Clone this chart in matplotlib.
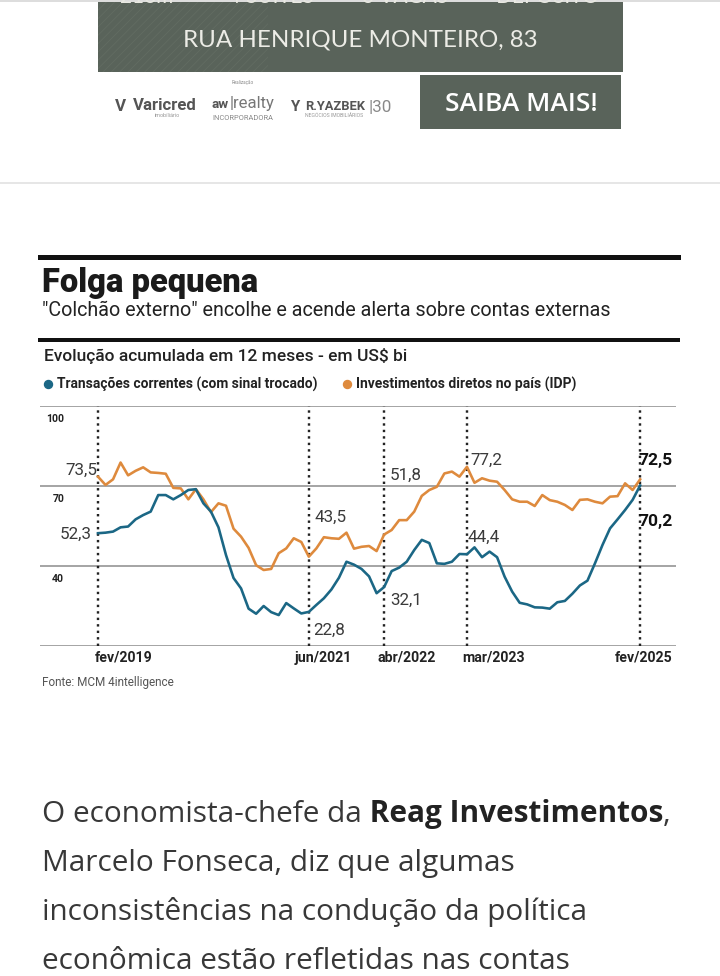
import numpy as np
import matplotlib
matplotlib.use('Agg')
import matplotlib.pyplot as plt
from matplotlib.patches import Rectangle
from matplotlib.lines import Line2D

W, H = 720, 976
PT = 0.72  # px -> pt at dpi 100

# ---- data (US$ bi, acumulado em 12 meses, fev/2019 .. fev/2025) ----
meses = np.arange(73)
transacoes = [52.3, 52.5, 52.9, 54.5, 54.8, 57.5, 59.1, 60.4, 66.6, 66.6,
              65.0, 66.6, 68.5, 68.8, 63.5, 60.4, 54.5, 44.1, 35.5, 31.6,
              24.0, 22.1, 25.0, 22.7, 21.6, 26.1, 24.1, 22.2, 22.8, 25.4,
              27.9, 31.2, 35.6, 41.6, 40.5, 38.9, 36.1, 29.8, 32.1, 38.1,
              39.4, 41.6, 46.0, 49.8, 48.6, 41.0, 40.8, 41.6, 44.5, 44.4,
              47.0, 43.3, 45.4, 43.3, 36.0, 30.4, 26.2, 25.6, 24.5, 24.4,
              24.0, 26.4, 26.9, 29.6, 32.7, 34.5, 41.0, 47.9, 54.1, 57.5,
              61.0, 64.8, 70.2]
idp = [73.5, 70.4, 72.5, 78.8, 74.0, 75.7, 77.0, 75.1, 74.9, 74.6,
       69.3, 69.1, 65.0, 68.8, 65.0, 60.2, 63.5, 62.6, 54.0, 51.0,
       46.8, 40.3, 38.5, 38.9, 44.8, 46.6, 50.4, 49.0, 43.5, 46.6,
       50.8, 50.4, 50.2, 52.5, 46.5, 47.2, 47.5, 45.6, 51.8, 53.5,
       57.2, 57.2, 60.4, 66.3, 68.5, 69.7, 74.7, 75.4, 73.5, 77.2,
       71.2, 72.9, 72.0, 71.6, 68.5, 65.0, 64.1, 64.1, 62.5, 66.6,
       64.7, 64.1, 62.9, 61.0, 64.8, 65.0, 64.1, 63.5, 66.0, 66.2,
       71.0, 68.5, 72.5]
marcos = [0, 28, 38, 49, 72]
marcos_rotulos = ['fev/2019', 'jun/2021', 'abr/2022', 'mar/2023', 'fev/2025']
y_rotulos = [100, 70, 40]
y_grade = [10, 40, 70, 100]

AZUL = '#1b6785'
LARANJA = '#de8a3d'
CHART = ['Roboto', 'DejaVu Sans']
BODY = ['Open Sans', 'DejaVu Sans']
BANNER = ['Lato', 'DejaVu Sans']


def fx(x):
    return x / W


def fy(y):
    return 1 - y / H


fig = plt.figure(figsize=(W / 100, H / 100), dpi=100)
fig.patch.set_facecolor('white')
r = fig.canvas.get_renderer()


def fit(t, width_px):
    # ajusta o tamanho da fonte para a largura vista no original
    w = t.get_window_extent(renderer=r).width
    t.set_fontsize(t.get_fontsize() * width_px / w)
    return t.get_fontsize()


def put(x, y, s, px, width=None, **kw):
    kw.setdefault('va', 'baseline')
    t = fig.text(fx(x), fy(y), s, fontsize=px * PT, **kw)
    if width:
        fit(t, width)
    return t


def hline(x0, x1, y, lw_px, color):
    fig.add_artist(Line2D([fx(x0), fx(x1)], [fy(y), fy(y)], lw=lw_px * PT,
                          color=color, transform=fig.transFigure))


def rect(x, y, w, h, color, **kw):
    fig.add_artist(Rectangle((fx(x), fy(y + h)), w / W, h / H, facecolor=color,
                             transform=fig.transFigure, lw=0, **kw))


# ---- banner publicitario ----
hline(0, 720, 1, 2, '#dddddd')
rect(98, 0, 525, 72, '#59635a')
plt.rcParams['hatch.linewidth'] = 0.5
rect(98, 0, 170, 72, 'none', hatch='////', edgecolor='#636d63')
put(360, 3, '216m²    ·    4 SUÍTES    ·    3 VAGAS    ·    DEPÓSITO', 22, width=477,
    color='#e9e9e2', ha='center', family=BANNER)
put(360, 46, 'RUA HENRIQUE MONTEIRO, 83', 24, width=355, color='#ecece6',
    ha='center', family=BANNER)
rect(420, 75, 201, 54, '#59635a')
put(521, 111, 'SAIBA MAIS!', 22, width=152, color='white', ha='center',
    family=BODY, weight='semibold')
put(115, 111, 'V', 17, color='#555555', weight='bold', family=CHART)
put(133, 110, 'Varicred', 14, width=64, color='#555555', weight='bold', family=CHART)
put(155, 117, 'imobiliário', 5, width=26, color='#999999', family=CHART)
put(243, 84, 'Realização', 5, width=22, color='#888888', ha='center', family=CHART)
put(212, 108, 'aw', 13, width=17, color='#555555', family=CHART, weight='bold')
put(230, 108, '|realty', 13, width=45, color='#777777', family=CHART)
put(243, 120, 'INCORPORADORA', 5, width=60, color='#888888', ha='center', family=CHART)
put(290, 111, 'Y', 15, color='#555555', weight='bold', family=CHART)
put(305, 110, 'R.YAZBEK', 11, width=60, color='#555555', weight='bold', family=CHART)
put(305, 117, 'NEGÓCIOS IMOBILIÁRIOS', 4, width=60, color='#999999', family=CHART)
put(369, 112, '|30', 14, width=23, color='#888888', family=CHART)
hline(0, 720, 183, 2, '#e6e6e6')

# ---- cabecalho do grafico ----
hline(40, 678, 257, 5, '#111111')
put(42, 292, 'Folga pequena', 30, width=216, weight='heavy', color='#1a1a1a', family=CHART)
put(42, 316, '"Colchão externo" encolhe e acende alerta sobre contas externas',
    20, width=567, color='#222222', family=CHART)
hline(40, 678, 340, 4, '#111111')
put(44, 361, 'Evolução acumulada em 12 meses - em US$ bi', 17, width=364,
    color='#222222', family=CHART, weight='medium')

for x_dot, x_txt, w_txt, cor, txt in [
        (48, 57, 259, AZUL, 'Transações correntes (com sinal trocado)'),
        (347, 356, 221, LARANJA, 'Investimentos diretos no país (IDP)')]:
    fig.add_artist(Line2D([fx(x_dot)], [fy(384)], marker='o', ms=8 * PT,
                          color=cor, transform=fig.transFigure))
    put(x_txt, 389, txt, 13, width=w_txt, weight='bold', color='#222222', family=CHART)

# ---- area do grafico ----
ax = fig.add_axes([fx(40), fy(646), 636 / W, 240 / H])
ax.set_xlim(-7.7, 76.76)
ax.set_ylim(10, 100)
ax.axis('off')
for v in y_grade:
    ax.axhline(v, color='#8c8c8c', lw=1.1, zorder=1)
tam = None
for v in y_rotulos:
    t = ax.annotate(str(v), xy=(0.038, v), xycoords=('axes fraction', 'data'),
                    xytext=(0, -16 * PT), textcoords='offset points',
                    ha='right', va='baseline', fontsize=11 * PT, weight='bold',
                    color='#222222', family=CHART)
    if tam is None:
        tam = fit(t, 18)
    t.set_fontsize(tam)
for m in marcos:
    ax.axvline(m, color='#222222', lw=2.4 * PT, linestyle=(0, (1, 1.7)), zorder=2)

ax.plot(meses, idp, color=LARANJA, lw=2.6 * PT, zorder=3)
ax.plot(meses, transacoes, color=AZUL, lw=2.6 * PT, zorder=4)

# rotulos do eixo x (alinhados como no original)
x_ajuste = [(-3, 'left'), (-14, 'left'), (-7, 'left'), (-5, 'left'), (32, 'right')]
tam = None
for m, rot, (dx, ha) in zip(marcos, marcos_rotulos, x_ajuste):
    t = ax.annotate(rot, xy=(m, 0), xycoords=('data', 'axes fraction'),
                    xytext=(dx * PT, -16 * PT), textcoords='offset points',
                    ha=ha, va='baseline', fontsize=14 * PT, weight='bold',
                    color='#222222', family=CHART)
    if tam is None:
        tam = fit(t, 58)
    t.set_fontsize(tam)

# valores destacados
desloc_idp = [(-1, 8, 'right'), (6, 41, 'left'), (6, 61, 'left'), (3, 8, 'left'), (-2, 21, 'left')]
desloc_tc = [(-6, 1, 'right'), (4, -16, 'left'), (6, -11, 'left'), (1, 19, 'left'), (-2, -34, 'left')]
tam_n, tam_b = None, None
for serie, desloc in [(idp, desloc_idp), (transacoes, desloc_tc)]:
    for i, (m, (dx, dy, ha)) in enumerate(zip(marcos, desloc)):
        v = serie[m]
        final = i == len(marcos) - 1
        t = ax.annotate(f'{v:.1f}'.replace('.', ','), xy=(m, v),
                        xytext=(dx * PT, (dy - 6.5) * PT), textcoords='offset points',
                        ha=ha, va='baseline', fontsize=18 * PT,
                        weight='bold' if final else 'normal',
                        color='#111111' if final else '#3a3a3a', family=CHART)
        if final:
            tam_b = tam_b or fit(t, 34)
            t.set_fontsize(tam_b)
        else:
            tam_n = tam_n or fit(t, 32)
            t.set_fontsize(tam_n)

put(42, 686, 'Fonte: MCM 4intelligence', 12, width=134, color='#555555', family=CHART)

# ---- texto da materia ----
TXT = '#383838'
SIZE = 29.8
t1 = put(42, 822, 'O economista-chefe da', SIZE, color=TXT, family=BODY)
x_end = t1.get_window_extent(renderer=r).x1
t2 = fig.text(x_end / W, fy(822), ' Reag Investimentos', fontsize=SIZE * PT,
              color='#222222', family=BODY, weight='bold', va='baseline')
x_end = t2.get_window_extent(renderer=r).x1
fig.text(x_end / W, fy(822), ',', fontsize=SIZE * PT, color=TXT, family=BODY, va='baseline')
put(42, 871, 'Marcelo Fonseca, diz que algumas', SIZE, color=TXT, family=BODY)
put(42, 920, 'inconsistências na condução da política', SIZE, color=TXT, family=BODY)
put(42, 969, 'econômica estão refletidas nas contas', SIZE, color=TXT, family=BODY)

fig.savefig('out.png', dpi=100)
